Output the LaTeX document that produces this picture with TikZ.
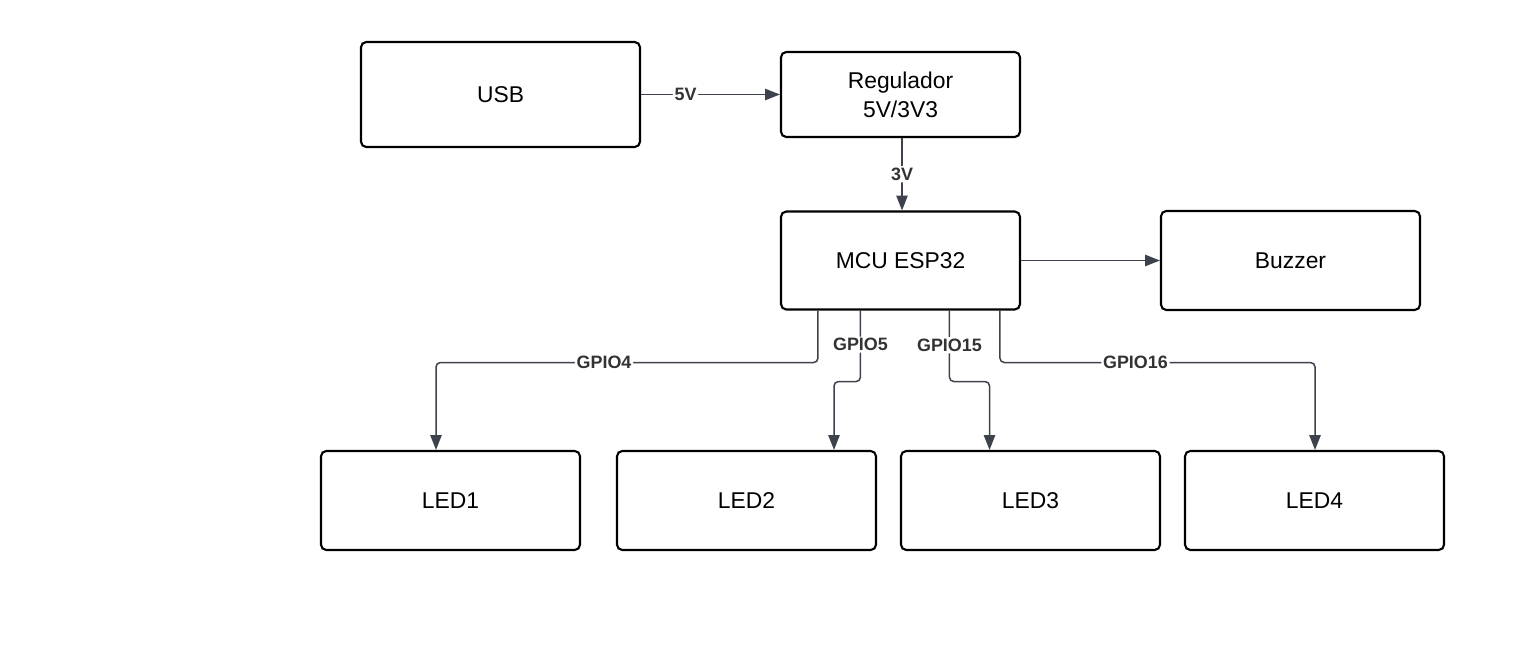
\documentclass[tikz,border=0pt]{standalone}
\usepackage{fontspec}
\setmainfont{Liberation Sans}
\usetikzlibrary{arrows.meta,calc}
\definecolor{wirecol}{HTML}{3D424D}
\definecolor{lblcol}{HTML}{333333}

\begin{document}
\begin{tikzpicture}[x=0.02cm,y=-0.02cm,
	box/.style={draw=black, line width=1.2pt, rounded corners=3pt, fill=white, inner sep=0pt, font=\fontsize{13}{16.5}\selectfont, align=center},
	wire/.style={draw=wirecol, line width=0.85pt, rounded corners=2.5pt, -{Triangle[length=8.5pt,width=6.5pt]}},
	lbl/.style={fill=white, inner sep=1pt, text=lblcol, font=\bfseries\fontsize{10.2}{12}\selectfont}]
	\useasboundingbox (0,0) rectangle (1540,645);
	\node[box, minimum width=279*0.02cm, minimum height=105*0.02cm] (usb) at (500.5,94.5) {USB};
	\node[box, minimum width=239*0.02cm, minimum height=85*0.02cm] (reg) at (900.5,94.5) {Regulador\\5V/3V3};
	\node[box, minimum width=239*0.02cm, minimum height=98*0.02cm] (mcu) at (900.5,260.5) {MCU ESP32};
	\node[box, minimum width=259*0.02cm, minimum height=99*0.02cm] (buzzer) at (1290.5,260.5) {Buzzer};
	\node[box, minimum width=259*0.02cm, minimum height=99*0.02cm] (led1) at (450.5,500.5) {LED1};
	\node[box, minimum width=259*0.02cm, minimum height=99*0.02cm] (led2) at (746.5,500.5) {LED2};
	\node[box, minimum width=259*0.02cm, minimum height=99*0.02cm] (led3) at (1030.5,500.5) {LED3};
	\node[box, minimum width=259*0.02cm, minimum height=99*0.02cm] (led4) at (1314.5,500.5) {LED4};
	\draw[wire] (usb.east) -- node[lbl, pos=0.32] {5V} (reg.west);
	\draw[wire] ($(reg.south)+(1.5,0)$) -- node[lbl] {3V} ($(mcu.north)+(1.5,0)$);
	\draw[wire] (mcu.east) -- (buzzer.west);
	\draw[wire] ($(mcu.south west)+(38,0)$) -- ++(0,52) -| node[lbl, pos=0.28] {GPIO4} ($(led1.north)+(-14.5,0)$);
	\draw[wire] ($(mcu.south west)+(80.5,0)$) -- node[lbl, pos=0.48] {GPIO5} ++(0,71) -| ($(led2.north)+(87.5,0)$);
	\draw[wire] ($(mcu.south west)+(169.5,0)$) -- node[lbl, pos=0.49] {GPIO15} ++(0,71) -| ($(led3.north)+(-41,0)$);
	\draw[wire] ($(mcu.south west)+(220,0)$) -- ++(0,52) -| node[lbl, pos=0.215] {GPIO16} ($(led4.north)+(0.5,0)$);
\end{tikzpicture}
\end{document}
